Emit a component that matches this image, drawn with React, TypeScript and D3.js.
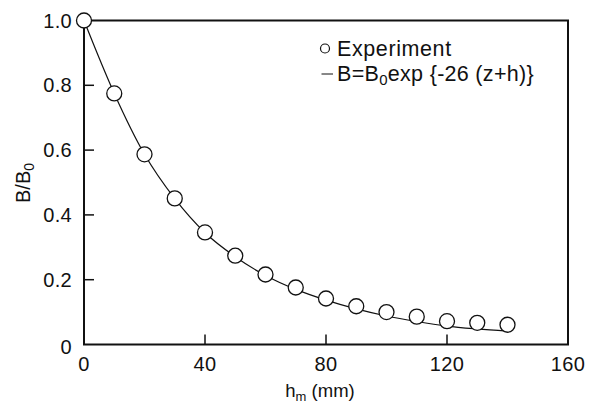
import React from "react";
import * as d3 from "d3";

const hm = [0, 10, 20, 30, 40, 50, 60, 70, 80, 90, 100, 110, 120, 130, 140];
const experiment = [1.0, 0.775, 0.587, 0.451, 0.346, 0.274, 0.216, 0.176, 0.142, 0.118, 0.1, 0.086, 0.072, 0.067, 0.061];
const fitted = [1.0, 0.775, 0.587, 0.45, 0.345, 0.271, 0.213, 0.17, 0.137, 0.11, 0.088, 0.071, 0.057, 0.048, 0.041];
const xTicks = [0, 40, 80, 120, 160];
const yTicks = [0, 0.2, 0.4, 0.6, 0.8, 1.0];
const yTickLabels = ["0", "0.2", "0.4", "0.6", "0.8", "1.0"];

const W = 594;
const H = 405;
const L = 84, R = 568, T = 20.5, B = 344.5;
const FONT = "'Liberation Sans', Arial, Helvetica, sans-serif";

export default function App() {
  const x = d3.scaleLinear().domain([0, 160]).range([L, R]);
  const y = d3.scaleLinear().domain([0, 1]).range([B, T]);
  const line = d3
    .line<number>()
    .x((_, i) => x(hm[i]))
    .y((d) => y(d))
    .curve(d3.curveMonotoneX);

  return (
    <div style={{ position: "fixed", left: 0, top: 0 }}>
      <svg width={W} height={H} style={{ display: "block", background: "#fff" }} fontFamily={FONT}>
        <rect x={0} y={0} width={W} height={H} fill="#fff" />
        {/* curve */}
        <path d={line(fitted) || ""} fill="none" stroke="#111" strokeWidth={1.2} />
        {/* frame */}
        <rect x={L} y={T} width={R - L} height={B - T} fill="none" stroke="#111" strokeWidth={2} />
        {/* y ticks */}
        {yTicks.map((t, i) => (
          <g key={"y" + i}>
            {t > 0 && t < 1 && (
              <line x1={L} x2={L + 10} y1={y(t)} y2={y(t)} stroke="#111" strokeWidth={1.5} />
            )}
            <text
              x={72}
              y={y(t) + (t === 0 ? 2 : 0)}
              textAnchor="end"
              dominantBaseline="central"
              fontSize={20}
              letterSpacing={0.3}
              fill="#111"
            >
              {yTickLabels[i]}
            </text>
          </g>
        ))}
        {/* x ticks */}
        {xTicks.map((t, i) => (
          <g key={"x" + i}>
            {t > 0 && t < 160 && (
              <line x1={x(t)} x2={x(t)} y1={B} y2={B - 10} stroke="#111" strokeWidth={1.5} />
            )}
            <text x={x(t)} y={371} textAnchor="middle" fontSize={20} letterSpacing={0.3} fill="#111">
              {t}
            </text>
          </g>
        ))}
        {/* points */}
        {experiment.map((v, i) => (
          <circle key={"p" + i} cx={x(hm[i])} cy={y(v)} r={7.5} fill="#fff" stroke="#111" strokeWidth={1.3} />
        ))}
        {/* axis titles */}
        <text x={320} y={396.5} textAnchor="middle" fontSize={18.5} fill="#111">
          h<tspan fontSize={13} dy={4}>m</tspan>
          <tspan dy={-4}> (mm)</tspan>
        </text>
        <text transform={`translate(30,183) rotate(-90)`} textAnchor="middle" fontSize={20} fill="#111">
          B/B<tspan fontSize={14} dy={4}>0</tspan>
        </text>
        {/* legend */}
        <circle cx={325} cy={48.5} r={4.5} fill="#fff" stroke="#111" strokeWidth={1.2} />
        <text x={337} y={56} fontSize={21.5} letterSpacing={0.6} fill="#111">Experiment</text>
        <line x1={321.5} x2={333} y1={74} y2={74} stroke="#111" strokeWidth={1} />
        <text x={337} y={80.5} fontSize={21.5} letterSpacing={0.3} fill="#111">
          B=B<tspan fontSize={15} dy={4}>0</tspan>
          <tspan dy={-4}>exp {"{"}-26 (z+h){"}"}</tspan>
        </text>
      </svg>
    </div>
  );
}
